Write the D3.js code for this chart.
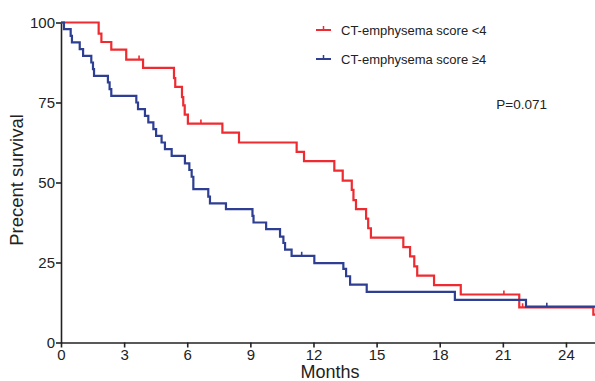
<!DOCTYPE html>
<html>
<head>
<meta charset="utf-8">
<script src="https://cdn.jsdelivr.net/npm/d3@7"></script>
<style>
body { margin: 0; background: #fff; }
svg text { font-family: "Liberation Sans", Arial, Helvetica, sans-serif; fill: #222; }
</style>
</head>
<body>
<svg id="chart" width="595" height="381"></svg>
<script>
// step data: [months, percent survival]
var lowTimes = [0, 1.79, 1.92, 2.39, 3.10, 3.90, 5.37, 5.43, 5.75, 5.81, 5.88, 6.03, 7.67, 8.46, 11.2, 11.55, 12.99, 13.39, 13.82, 13.9, 14.02, 14.5, 14.6, 14.73, 16.27, 16.59, 16.79, 16.93, 17.73, 19.0, 21.78, 25.3, 25.38];
var lowSurv  = [100, 96.5, 93.9, 91.5, 88.4, 85.8, 82.6, 79.9, 76.7, 74.1, 71.2, 68.4, 65.6, 62.5, 59.6, 56.7, 53.7, 50.6, 47.7, 44.5, 41.7, 38.7, 35.7, 32.8, 29.8, 26.9, 23.8, 20.9, 17.9, 15.0, 11.0, 8.7, 8.7];
var lowCensor = [[3.71, 88.4], [6.65, 68.4], [21.05, 15.0], [21.94, 11.0]];

var highTimes = [0, 0.14, 0.46, 0.52, 0.89, 1.05, 1.44, 1.52, 1.57, 2.23, 2.31, 2.39, 3.58, 3.66, 3.99, 4.15, 4.39, 4.52, 4.78, 4.94, 5.26, 5.89, 6.1, 6.21, 6.29, 7.0, 7.08, 7.84, 9.1, 9.15, 9.75, 10.41, 10.57, 10.65, 10.96, 12.04, 13.42, 13.55, 13.74, 14.53, 18.72, 22.1, 25.38];
var highSurv  = [100, 97.9, 95.8, 93.8, 91.7, 89.6, 87.5, 85.4, 83.3, 81.3, 79.2, 77.1, 75.0, 72.9, 70.8, 68.8, 66.7, 64.6, 62.5, 60.4, 58.3, 56.0, 53.9, 51.8, 47.9, 45.6, 43.5, 41.7, 39.6, 37.5, 35.4, 33.1, 31.1, 29.0, 27.1, 24.8, 23.0, 20.7, 18.1, 15.8, 13.3, 11.2, 11.2];
var highCensor = [[11.44, 27.1], [23.09, 11.2]];

var xTicks = [0, 3, 6, 9, 12, 15, 18, 21, 24];
var yTicks = [0, 25, 50, 75, 100];
var groupNames = ["CT-emphysema score <4", "CT-emphysema score \u22654"];

var red = "#ee2b30";
var blue = "#2d3e93";

var svg = d3.select("#chart");

var x = d3.scaleLinear().domain([0, 25.38]).range([61, 595]);
var y = d3.scaleLinear().domain([0, 100]).range([342.5, 22.5]);

// axes
var xAxis = svg.append("g")
.attr("transform", "translate(0,342.5)")
.call(d3.axisBottom(x).tickValues(xTicks).tickSize(5).tickSizeOuter(0));
xAxis.selectAll("text").style("font-size", "15px").attr("dy", "0.85em").attr("y", 5);

var yAxis = svg.append("g")
.attr("transform", "translate(61,0)")
.call(d3.axisLeft(y).tickValues(yTicks).tickSize(5).tickSizeOuter(0));
yAxis.selectAll("text").style("font-size", "15px").attr("x", -6);

svg.selectAll(".domain, .tick line").attr("stroke", "#222").attr("stroke-width", 1.6);

svg.append("text")
.text("Months")
.attr("x", 330)
.attr("y", 378)
.attr("text-anchor", "middle")
.style("font-size", "18px");

svg.append("text")
.text("Precent survival")
.attr("transform", "translate(23,180) rotate(-90)")
.attr("text-anchor", "middle")
.style("font-size", "18.5px");

// curves
var line = d3.line()
.x(function(d){ return x(d[0]); })
.y(function(d){ return y(d[1]); })
.curve(d3.curveStepAfter);

function drawGroup(times, surv, censor, color) {
  var pts = times.map(function(t, i){ return [t, surv[i]]; });
  svg.append("path")
  .datum(pts)
  .attr("fill", "none")
  .attr("stroke", color)
  .attr("stroke-width", 2.2)
  .attr("d", line);

  svg.selectAll(null)
  .data(censor)
  .enter().append("line")
  .attr("x1", function(d){ return x(d[0]); })
  .attr("x2", function(d){ return x(d[0]); })
  .attr("y1", function(d){ return y(d[1]); })
  .attr("y2", function(d){ return y(d[1]) - 4; })
  .attr("stroke", color)
  .attr("stroke-width", 1.6);
}

drawGroup(lowTimes, lowSurv, lowCensor, red);
drawGroup(highTimes, highSurv, highCensor, blue);

// legend
var legend = svg.append("g").attr("transform", "translate(316,30)");
[red, blue].forEach(function(c, i){
  var g = legend.append("g").attr("transform", "translate(0," + (i * 29) + ")");
  g.append("line").attr("x1", 0).attr("x2", 15).attr("y1", 0).attr("y2", 0)
  .attr("stroke", c).attr("stroke-width", 2);
  g.append("line").attr("x1", 7.5).attr("x2", 7.5).attr("y1", 0).attr("y2", -4)
  .attr("stroke", c).attr("stroke-width", 1.5);
  g.append("text").text(groupNames[i])
  .attr("x", 25).attr("y", 0).attr("dy", "0.35em")
  .style("font-size", "13px");
});

svg.append("text")
.text("P=0.071")
.attr("x", 547)
.attr("y", 104)
.attr("dy", "0.35em")
.attr("text-anchor", "end")
.style("font-size", "13.5px");
</script>
</body>
</html>
